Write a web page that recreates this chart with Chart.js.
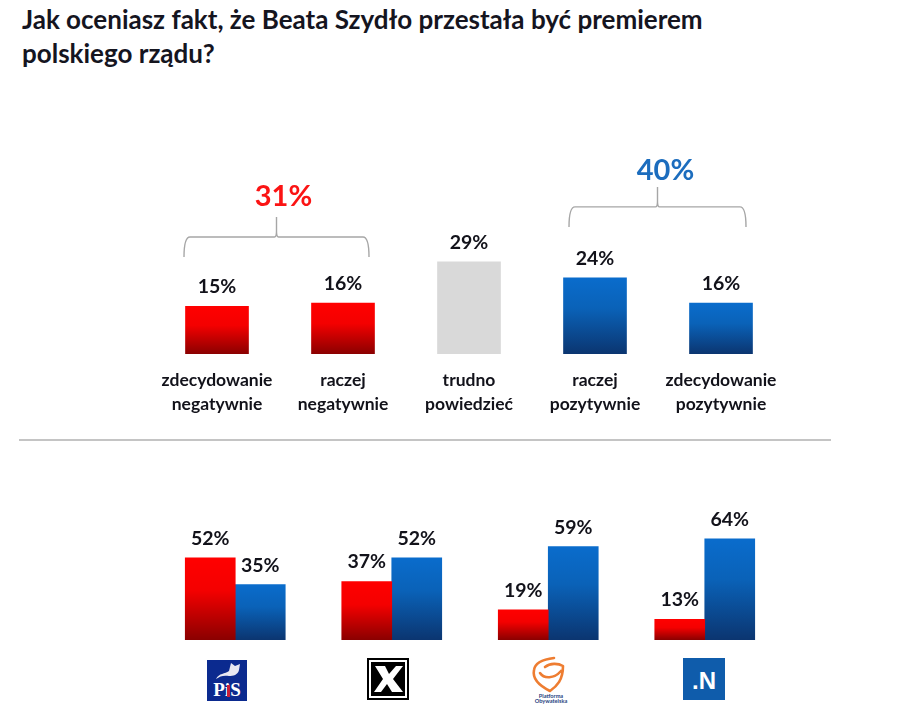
<!DOCTYPE html>
<html lang="pl">
<head>
<meta charset="utf-8">
<title>Ocena</title>
<script src="https://cdn.jsdelivr.net/npm/chart.js@4"></script>
<style>
html,body{margin:0;padding:0;background:#fff;width:900px;height:720px;overflow:hidden;}
#title{position:absolute;left:22px;top:2px;font:700 26px/34px Lato,sans-serif;color:#15151f;white-space:nowrap;}
canvas{position:absolute;display:block;}
#c1{left:154px;top:130px;}
#c2{left:157px;top:500px;}
#rule{position:absolute;left:19px;top:439px;width:812px;height:2px;background:#c4c4c4;}
svg.logo{position:absolute;overflow:visible;}
</style>
</head>
<body>
<div id="title">Jak oceniasz fakt, że Beata Szydło przestała być premierem<br>polskiego rządu?</div>
<canvas id="c1" width="630" height="300"></canvas>
<div id="rule"></div>
<canvas id="c2" width="626" height="140"></canvas>

<svg class="logo" style="left:207px;top:660px" width="40" height="41" viewBox="0 0 40 41">
  <rect width="40" height="41" fill="#0b2a8f"/>
  <path d="M9 19 C12 13 18 14 22 11 L24 3 L28 6 L33 4 L32 10 C31 15 26 16 22 16 C17 15 13 16 9 19Z" fill="#e8e8f2"/>
  <text x="20" y="36" text-anchor="middle" font-family="Liberation Serif" font-weight="700" font-size="19" fill="#fff">PiS</text>
  <rect x="20" y="25" width="3" height="12" fill="#c8203a"/>
</svg>
<svg class="logo" style="left:367px;top:658px" width="42" height="42" viewBox="0 0 42 42">
  <rect x="1" y="1" width="40" height="40" fill="#fff" stroke="#000" stroke-width="2"/>
  <rect x="4" y="4" width="34" height="34" fill="#000"/>
  <path d="M8 8 H18 L22 16 L29 8 H36 L26 21 L36 34 H25 L20 26 L14 34 H7 L16 21Z" fill="#fff"/>
</svg>
<svg class="logo" style="left:530px;top:656px" width="42" height="48" viewBox="0 0 42 48">
  <path d="M24 2 C16 3 5 6 4 14 C2 24 12 31 20 35 C27 30 33 24 33 10 C28 7 20 7 15 11 M10 17 C14 23 24 23 31 15" fill="none" stroke="#ee7d31" stroke-width="2.6" stroke-linecap="round" stroke-linejoin="round"/>
  <text x="21" y="41.5" text-anchor="middle" font-family="Lato" font-weight="700" font-size="5.6" fill="#1f3f7f">Platforma</text>
  <text x="21" y="47" text-anchor="middle" font-family="Lato" font-weight="700" font-size="5.6" fill="#1f3f7f">Obywatelska</text>
</svg>
<svg class="logo" style="left:683px;top:658px" width="42" height="42" viewBox="0 0 42 42">
  <rect width="42" height="42" fill="#0f5cab"/>
  <text x="21" y="31" text-anchor="middle" font-family="Liberation Sans" font-weight="700" font-size="24" fill="#fff">.N</text>
</svg>

<script>
const answerCategories = [
  ['zdecydowanie', 'negatywnie'],
  ['raczej', 'negatywnie'],
  ['trudno', 'powiedzieć'],
  ['raczej', 'pozytywnie'],
  ['zdecydowanie', 'pozytywnie']
];
const answerValues = [15, 16, 29, 24, 16];
const answerKinds = ['red', 'red', 'grey', 'blue', 'blue'];
const negativeTotal = 31;
const positiveTotal = 40;

const partyCategories = ['PiS', 'Kukiz\'15', 'Platforma Obywatelska', '.N'];
const partyNegative = [52, 37, 19, 13];
const partyPositive = [35, 52, 59, 64];

const RED = ['#ff0000', '#f40000', '#8a0000'];
const BLUE = ['#0a6ccc', '#0a62b8', '#0b3570'];
const TEXT = '#12121a';

function barGradient(ctx, stops) {
  const chart = ctx.chart;
  if (!chart.chartArea || ctx.parsed === undefined) return stops[0];
  const y = chart.scales.y;
  const g = chart.ctx.createLinearGradient(0, y.getPixelForValue(ctx.parsed.y), 0, y.getPixelForValue(0));
  g.addColorStop(0, stops[0]);
  g.addColorStop(0.4, stops[1]);
  g.addColorStop(1, stops[2]);
  return g;
}

const valueLabels = {
  id: 'valueLabels',
  afterDatasetsDraw(chart) {
    const c = chart.ctx;
    c.save();
    c.font = '700 19.5px Lato, sans-serif';
    c.fillStyle = TEXT;
    c.textAlign = 'center';
    c.textBaseline = 'alphabetic';
    chart.data.datasets.forEach((ds, di) => {
      chart.getDatasetMeta(di).data.forEach((el, i) => {
        c.fillText(ds.data[i] + '%', el.x, el.y - 13);
      });
    });
    c.restore();
  }
};

function drawBracket(chart, fromIndex, toIndex, total, color, leftOff, rightOff, bottomOff, textOff, textGap) {
  const c = chart.ctx, xs = chart.scales.x, ys = chart.scales.y;
  const l = xs.getPixelForValue(fromIndex) + leftOff;
  const r = xs.getPixelForValue(toIndex) + rightOff;
  const bottom = ys.getPixelForValue(total) + bottomOff;
  const mid = bottom - 20;
  const top = bottom - 40;
  const tip = (l + r) / 2;
  const rad = 6;
  c.save();
  c.strokeStyle = '#a6a6a6';
  c.lineWidth = 1.4;
  c.beginPath();
  c.moveTo(l, bottom);
  c.quadraticCurveTo(l, mid, l + rad, mid);
  c.lineTo(tip - 2, mid);
  c.quadraticCurveTo(tip, mid, tip, mid - 6);
  c.lineTo(tip, top);
  c.moveTo(tip, mid - 6);
  c.quadraticCurveTo(tip, mid, tip + 2, mid);
  c.lineTo(r - rad, mid);
  c.quadraticCurveTo(r, mid, r, bottom);
  c.stroke();
  c.font = '700 29px Lato, sans-serif';
  c.fillStyle = color;
  c.textAlign = 'center';
  c.textBaseline = 'alphabetic';
  c.fillText(total + '%', tip + textOff, top - textGap);
  c.restore();
}

const brackets = {
  id: 'brackets',
  afterDatasetsDraw(chart) {
    drawBracket(chart, 0, 1, negativeTotal, '#fb1414', -33, 26, 1.5, 7, 11);
    drawBracket(chart, 3, 4, positiveTotal, '#1c6dbe', -26, 25, 0, 8, 7);
  }
};

new Chart(document.getElementById('c1'), {
  type: 'bar',
  data: {
    labels: answerCategories,
    datasets: [{
      data: answerValues,
      barThickness: 63,
      backgroundColor(ctx) {
        const kind = answerKinds[ctx.dataIndex];
        if (kind === 'grey') return '#d9d9d9';
        return barGradient(ctx, kind === 'red' ? RED : BLUE);
      }
    }]
  },
  options: {
    responsive: false,
    animation: false,
    devicePixelRatio: 1,
    layout: { padding: 0 },
    plugins: { legend: { display: false }, tooltip: { enabled: false } },
    scales: {
      x: {
        grid: { display: false },
        border: { display: false },
        afterFit(s) { s.height = 76; },
        ticks: {
          color: TEXT,
          padding: 6,
          autoSkip: false,
          maxRotation: 0,
          font: { family: 'Lato, sans-serif', weight: '700', size: 17.5, lineHeight: 1.37 }
        }
      },
      y: { display: false, min: 0, max: 70.5 }
    }
  },
  plugins: [valueLabels, brackets]
});

new Chart(document.getElementById('c2'), {
  type: 'bar',
  data: {
    labels: partyCategories,
    datasets: [
      { data: partyNegative, barThickness: 50, backgroundColor: ctx => barGradient(ctx, RED) },
      { data: partyPositive, barThickness: 50, backgroundColor: ctx => barGradient(ctx, BLUE) }
    ]
  },
  options: {
    responsive: false,
    animation: false,
    devicePixelRatio: 1,
    layout: { padding: 0 },
    plugins: { legend: { display: false }, tooltip: { enabled: false } },
    scales: {
      x: { display: false },
      y: { display: false, min: 0, max: 88.5 }
    }
  },
  plugins: [valueLabels]
});
</script>
</body>
</html>
